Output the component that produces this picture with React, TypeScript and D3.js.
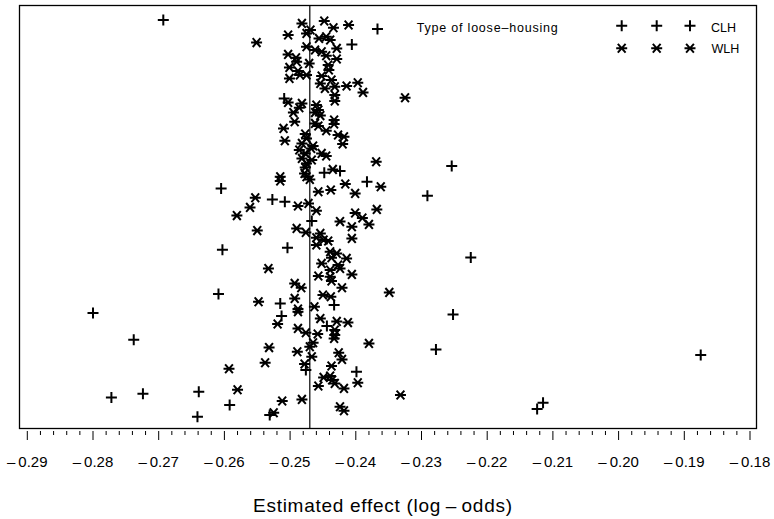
import React from "react";
import * as d3 from "d3";

// Estimated effects (log-odds) and herd order, CLH (+)
const clhEffect = [
  -0.2693, -0.2605, -0.2527, -0.2508, -0.2603, -0.2609, -0.2800, -0.2738, -0.2772, -0.2724,
  -0.2639, -0.2592, -0.2641, -0.2531, -0.2367, -0.2406, -0.2509, -0.2448, -0.2424, -0.2383,
  -0.2467, -0.2504, -0.2515, -0.2433, -0.2513, -0.2444, -0.2476, -0.2399, -0.2254, -0.2291,
  -0.2225, -0.2252, -0.2278, -0.2115, -0.2124, -0.1875,
];
const clhOrder = [
  7.0, 91.2, 96.7, 97.9, 121.9, 144.0, 153.5, 166.9, 195.7, 193.9,
  192.9, 199.5, 205.4, 204.5, 11.5, 19.2, 46.2, 83.4, 82.5, 87.9,
  107.5, 120.9, 148.7, 149.5, 155.0, 160.0, 182.0, 182.9, 80.0, 94.9,
  125.7, 154.2, 171.7, 198.4, 201.5, 174.5,
];

// WLH (*)
const wlhEffect = [
  -0.2551, -0.2553, -0.2561, -0.2581, -0.2550, -0.2533, -0.2548, -0.2532, -0.2538, -0.2593,
  -0.2580, -0.2525, -0.2482, -0.2448, -0.2434, -0.2411, -0.2503, -0.2475, -0.2469, -0.2456,
  -0.2445, -0.2439, -0.2475, -0.2462, -0.2452, -0.2429, -0.2503, -0.2491, -0.2490, -0.2445,
  -0.2429, -0.2471, -0.2501, -0.2442, -0.2441, -0.2488, -0.2485, -0.2475, -0.2501, -0.2452,
  -0.2437, -0.2454, -0.2447, -0.2432, -0.2414, -0.2397, -0.2389, -0.2432, -0.2432, -0.2325,
  -0.2503, -0.2482, -0.2486, -0.2495, -0.2460, -0.2457, -0.2462, -0.2454, -0.2493, -0.2462,
  -0.2457, -0.2433, -0.2433, -0.2510, -0.2445, -0.2477, -0.2475, -0.2427, -0.2418, -0.2420,
  -0.2508, -0.2482, -0.2465, -0.2486, -0.2468, -0.2477, -0.2452, -0.2445, -0.2482, -0.2467,
  -0.2475, -0.2477, -0.2369, -0.2435, -0.2478, -0.2475, -0.2470, -0.2515, -0.2515, -0.2362,
  -0.2416, -0.2457, -0.2438, -0.2401, -0.2488, -0.2472, -0.2460, -0.2401, -0.2390, -0.2368,
  -0.2424, -0.2406, -0.2380, -0.2490, -0.2476, -0.2406, -0.2454, -0.2460, -0.2449, -0.2442,
  -0.2460, -0.2439, -0.2429, -0.2414, -0.2437, -0.2452, -0.2427, -0.2424, -0.2439, -0.2457,
  -0.2406, -0.2439, -0.2437, -0.2493, -0.2483, -0.2421, -0.2349, -0.2450, -0.2438, -0.2493,
  -0.2463, -0.2488, -0.2488, -0.2454, -0.2429, -0.2412, -0.2519, -0.2488, -0.2476, -0.2458,
  -0.2432, -0.2432, -0.2433, -0.2380, -0.2465, -0.2470, -0.2489, -0.2426, -0.2421, -0.2467,
  -0.2478, -0.2437, -0.2449, -0.2439, -0.2436, -0.2432, -0.2457, -0.2418, -0.2397, -0.2332,
  -0.2482, -0.2512, -0.2424, -0.2418,
];
const wlhOrder = [
  18.3, 95.9, 100.7, 104.8, 112.3, 131.3, 147.9, 170.8, 178.4, 181.4,
  191.9, 203.4, 8.7, 7.5, 10.9, 9.5, 14.5, 13.7, 12.0, 16.2,
  15.4, 17.0, 20.4, 22.0, 22.9, 21.2, 24.2, 25.9, 27.9, 24.9,
  26.5, 28.7, 30.7, 29.5, 32.0, 32.5, 34.5, 34.5, 36.2, 35.0,
  37.0, 38.7, 41.2, 40.4, 40.0, 38.4, 43.2, 44.5, 47.5, 45.9,
  48.2, 48.7, 50.9, 53.3, 49.5, 52.0, 53.3, 54.8, 57.9, 58.7,
  60.0, 57.0, 59.0, 61.2, 62.4, 64.0, 66.2, 64.5, 65.4, 69.0,
  67.4, 68.7, 70.0, 72.0, 71.2, 73.7, 73.7, 75.0, 76.2, 77.0,
  78.7, 80.7, 77.9, 81.7, 83.7, 85.4, 86.7, 85.4, 87.5, 90.4,
  89.0, 92.9, 92.0, 93.7, 100.0, 98.7, 102.4, 103.5, 106.0, 101.7,
  107.8, 110.4, 109.2, 111.2, 113.2, 116.2, 113.7, 115.9, 117.0, 117.5,
  119.5, 122.9, 123.7, 126.2, 125.9, 128.7, 129.5, 131.2, 132.0, 135.0,
  134.2, 135.4, 137.5, 138.7, 140.9, 140.9, 143.2, 144.5, 145.4, 146.2,
  150.4, 151.5, 152.9, 156.3, 157.7, 158.3, 159.0, 161.2, 163.4, 164.0,
  162.0, 164.5, 166.2, 168.7, 168.4, 170.4, 172.9, 173.4, 176.7, 175.4,
  179.0, 180.0, 185.7, 185.0, 187.0, 188.7, 190.0, 191.2, 188.4, 194.5,
  196.7, 197.5, 200.4, 202.4,
];

const xTicks = [-0.29, -0.28, -0.27, -0.26, -0.25, -0.24, -0.23, -0.22, -0.21, -0.20, -0.19, -0.18];
const xMinorStep = 0.002;
const refEffect = -0.247;
const legendTitle = "Type of loose\u2013housing";
const seriesNames = ["CLH", "WLH"];
const axisTitle = "Estimated  effect  (log\u2009\u2013\u2009odds)";

const FONT = "'Liberation Sans', Arial, Helvetica, sans-serif";

function plusPath(cx: number, cy: number, r: number) {
  return `M${cx - r},${cy}H${cx + r}M${cx},${cy - r}V${cy + r}`;
}
function starPath(cx: number, cy: number, r: number) {
  const dx = r * Math.cos(Math.PI / 4);
  const dy = r * 0.8;
  return `M${cx - r},${cy}H${cx + r}M${cx - dx},${cy - dy}L${cx + dx},${cy + dy}M${cx - dx},${cy + dy}L${cx + dx},${cy - dy}`;
}

export default function App() {
  const W = 774, H = 519;
  const frame = { left: 19.5, right: 756.5, top: 5.5, bottom: 428.5 };
  const x = d3.scaleLinear().domain([-0.29, -0.18]).range([27.3, 750]);
  const y = d3.scaleLinear().domain([-0.25, 211.25]).range([frame.top, frame.bottom]);

  const minor = d3.range(-0.29, -0.18 + 1e-9, xMinorStep).filter(
    (v) => !xTicks.some((t) => Math.abs(t - v) < 1e-6)
  );

  const fmt = (v: number) => "\u2013\u2009" + d3.format(".2f")(Math.abs(v));

  return (
    <svg width={W} height={H} style={{ display: "block", position: "absolute", left: 0, top: 0 }}>
      <rect x={0} y={0} width={W} height={H} fill="#fff" />
      <rect
        x={frame.left}
        y={frame.top}
        width={frame.right - frame.left}
        height={frame.bottom - frame.top}
        fill="none"
        stroke="#000"
        strokeWidth={1.3}
      />
      <line x1={x(refEffect)} x2={x(refEffect)} y1={frame.top} y2={frame.bottom} stroke="#000" strokeWidth={1.2} />

      {/* ticks */}
      {xTicks.map((t) => (
        <g key={t}>
          <line x1={x(t)} x2={x(t)} y1={431} y2={440} stroke="#000" strokeWidth={1} />
          <text x={x(t)} y={466.5} textAnchor="middle" fontFamily={FONT} fontSize={15} fill="#000">
            {fmt(t)}
          </text>
        </g>
      ))}
      {minor.map((t, i) => (
        <line key={i} x1={x(t)} x2={x(t)} y1={431} y2={435} stroke="#000" strokeWidth={1} />
      ))}
      <text x={382.5} y={512} textAnchor="middle" fontFamily={FONT} fontSize={19} textLength={259} lengthAdjust="spacing" fill="#000">
        {axisTitle}
      </text>

      {/* points */}
      <g stroke="#000" strokeWidth={2} fill="none">
        {clhEffect.map((v, i) => (
          <path key={"c" + i} d={plusPath(x(v), y(clhOrder[i]), 5.5)} />
        ))}
        {wlhEffect.map((v, i) => (
          <path key={"w" + i} d={starPath(x(v), y(wlhOrder[i]), 5.5)} />
        ))}
      </g>

      {/* legend */}
      <text x={416.7} y={32.3} fontFamily={FONT} fontSize={12.5} textLength={141} lengthAdjust="spacing" fill="#000">
        {legendTitle}
      </text>
      <g stroke="#000" strokeWidth={2} fill="none">
        {[621.7, 656.7, 690].map((lx) => (
          <path key={"lc" + lx} d={plusPath(lx, 25.7, 5.5)} />
        ))}
        {[621.7, 656.7, 690].map((lx) => (
          <path key={"lw" + lx} d={starPath(lx, 48.3, 5.5)} />
        ))}
      </g>
      <text x={711} y={32.3} fontFamily={FONT} fontSize={12.5} fill="#000">{seriesNames[0]}</text>
      <text x={711.5} y={53} fontFamily={FONT} fontSize={12.5} fill="#000">{seriesNames[1]}</text>
    </svg>
  );
}
